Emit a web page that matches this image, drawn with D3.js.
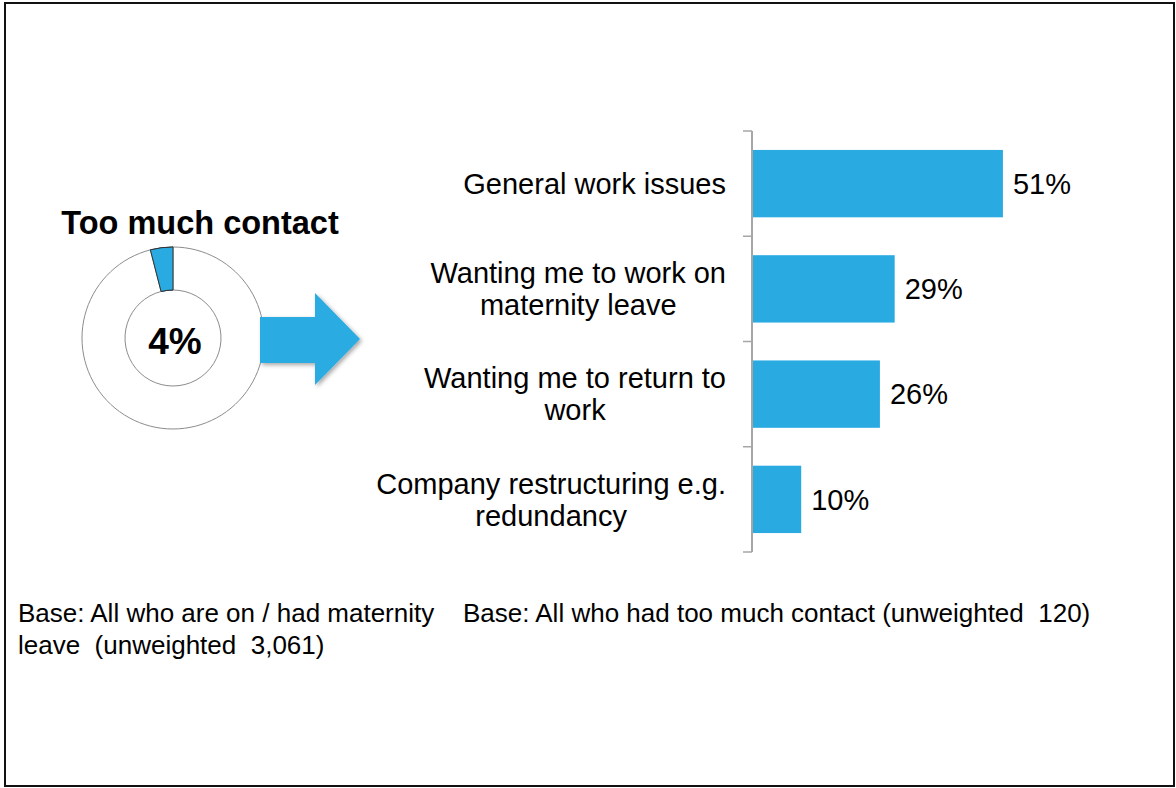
<!DOCTYPE html>
<html>
<head>
<meta charset="utf-8">
<script src="https://cdn.jsdelivr.net/npm/d3@7"></script>
<style>
  html, body { margin: 0; padding: 0; background: #fff; }
  svg { display: block; font-family: "Liberation Sans", Arial, sans-serif; }
  text { white-space: pre; }
</style>
</head>
<body>
<svg id="chart" width="1176" height="788"></svg>
<script>
// ---- data ----
const categories = [
  "General work issues",
  "Wanting me to work on\nmaternity leave",
  "Wanting me to return to\nwork",
  "Company restructuring e.g.\nredundancy"
];
const values = [51, 29, 26, 10];
const valueLabels = ["51%", "29%", "26%", "10%"];

const donutTitle = "Too much contact";
const donutValues = [4, 96];
const donutLabel = "4%";

const baseLeft = ["Base: All who are on / had maternity", "leave  (unweighted  3,061)"];
const baseRight = ["Base: All who had too much contact (unweighted  120)"];

// ---- setup ----
const svg = d3.select("#chart");
const blue = "#29ABE2";

const defs = svg.append("defs");
const f = defs.append("filter").attr("id", "shadow").attr("x", "-20%").attr("y", "-20%").attr("width", "150%").attr("height", "150%");
f.append("feDropShadow").attr("dx", 2).attr("dy", 2).attr("stdDeviation", 2).attr("flood-color", "#000").attr("flood-opacity", 0.35);

// frame
svg.append("rect").attr("x", 5).attr("y", 3).attr("width", 1169).attr("height", 783)
  .attr("fill", "none").attr("stroke", "#111").attr("stroke-width", 2);

// ---- bar chart ----
const x = d3.scaleLinear().domain([0, 100]).range([752, 752 + 492]);
const y = d3.scaleBand().domain(categories).range([131, 552]).paddingInner(0.36).paddingOuter(0.18);

svg.append("g").selectAll("rect").data(categories).join("rect")
  .attr("x", x(0))
  .attr("y", d => y(d))
  .attr("width", (d, i) => x(values[i]) - x(0))
  .attr("height", y.bandwidth())
  .attr("fill", blue);

const axisG = svg.append("g");
axisG.append("line").attr("x1", x(0)).attr("x2", x(0)).attr("y1", y.range()[0]).attr("y2", y.range()[1])
  .attr("stroke", "#A6A6A6").attr("stroke-width", 2);
const tickYs = categories.map(d => y(d) - y.step() * y.paddingInner() / 2);
tickYs.push(y.range()[1]);
axisG.selectAll("line.tick").data(tickYs).join("line").attr("class", "tick")
  .attr("x1", x(0) - 9).attr("x2", x(0)).attr("y1", d => d).attr("y2", d => d)
  .attr("stroke", "#A6A6A6").attr("stroke-width", 1.5);

// category labels: block right-aligned at 726, lines centered within block
const fs = 29, lh = 32, labelRight = 726;
svg.append("g").selectAll("text").data(categories).join("text")
  .attr("text-anchor", "middle")
  .attr("font-size", fs)
  .attr("fill", "#000")
  .each(function(d) {
    const t = d3.select(this);
    const lines = d.split("\n");
    const cy = y(d) + y.bandwidth() / 2;
    const first = cy + fs * 0.35 - (lines.length - 1) * lh / 2;
    const spans = t.selectAll("tspan").data(lines).join("tspan")
      .attr("y", (l, j) => first + j * lh).text(l => l);
    let maxW = 0;
    spans.each(function() { maxW = Math.max(maxW, this.getComputedTextLength()); });
    spans.attr("x", labelRight - maxW / 2);
  });

svg.append("g").selectAll("text").data(categories).join("text")
  .attr("x", (d, i) => x(values[i]) + 10)
  .attr("y", d => y(d) + y.bandwidth() / 2 + fs * 0.35)
  .attr("font-size", fs)
  .attr("fill", "#000")
  .text((d, i) => valueLabels[i]);

// ---- donut ----
const cx = 173, cy = 338;
const pie = d3.pie().sort(null).startAngle(0).endAngle(-2 * Math.PI);
const arc = d3.arc().innerRadius(48).outerRadius(91);
const dg = svg.append("g").attr("transform", `translate(${cx},${cy})`);
dg.selectAll("path").data(pie(donutValues)).join("path")
  .attr("d", arc)
  .attr("fill", (d, i) => i === 0 ? blue : "#fff")
  .attr("stroke", (d, i) => i === 0 ? "#333" : "#8c8c8c")
  .attr("stroke-width", 1);
dg.append("path").datum(pie(donutValues)[0]).attr("d", arc)
  .attr("fill", blue).attr("stroke", "#333").attr("stroke-width", 1);

dg.append("text").attr("x", 2).attr("y", 16).attr("text-anchor", "middle")
  .attr("font-size", 37).attr("font-weight", "bold").text(donutLabel);

svg.append("text").attr("x", 200).attr("y", 234).attr("text-anchor", "middle")
  .attr("font-size", 32.5).attr("font-weight", "bold").text(donutTitle);

// ---- arrow ----
svg.append("path")
  .attr("d", "M260,317 L315,317 L315,293 L360,339 L315,385 L315,363 L260,363 Z")
  .attr("fill", blue).attr("filter", "url(#shadow)");

// ---- base notes ----
svg.append("text").attr("font-size", 26).attr("fill", "#000")
  .selectAll("tspan").data(baseLeft).join("tspan")
  .attr("x", 18).attr("y", (d, i) => 622 + i * 32).text(d => d);
svg.append("text").attr("font-size", 26).attr("fill", "#000")
  .selectAll("tspan").data(baseRight).join("tspan")
  .attr("x", 463).attr("y", (d, i) => 622 + i * 32).text(d => d);
</script>
</body>
</html>
